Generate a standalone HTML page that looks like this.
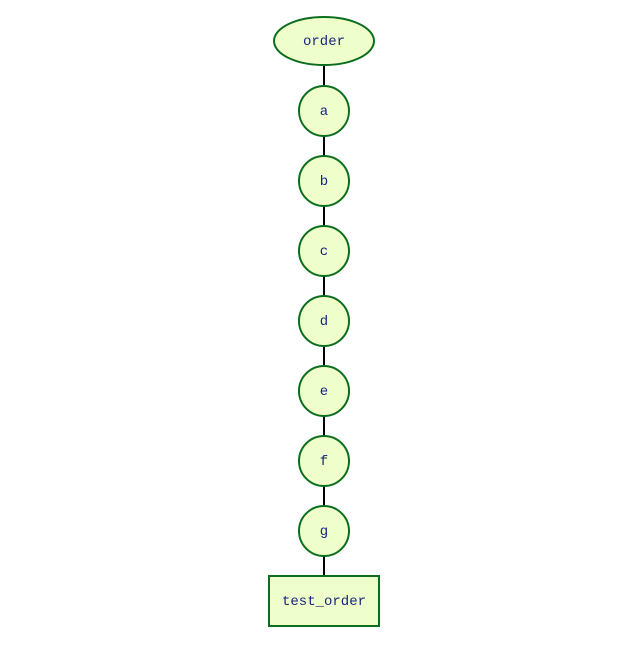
<!DOCTYPE html>
<html><head><meta charset="utf-8"><style>
html,body{margin:0;padding:0;background:#fff;}
svg{display:block;}
text{font-family:"Liberation Mono","DejaVu Sans Mono",monospace;font-size:14px;fill:#1a237e;}
</style></head><body>
<svg id="g" width="641" height="647"></svg>
<script>
const nodeLabels=["order","a","b","c","d","e","f","g","test_order"];
const nodeShapes=["ellipse","circle","circle","circle","circle","circle","circle","circle","rect"];
const svg=document.getElementById('g');
const NS='http://www.w3.org/2000/svg';
const cx=324, y0=41, step=70;
function yPos(i){return y0+i*step;}
function mk(t,a){const e=document.createElementNS(NS,t);for(const k in a)e.setAttribute(k,a[k]);svg.appendChild(e);return e;}
for(let i=0;i<nodeLabels.length-1;i++){
  const l=mk('line',{x1:cx,y1:yPos(i),x2:cx,y2:yPos(i+1),stroke:'#000','stroke-width':2});
  
  
}
const fill='#efffcc', stroke='#0b6e1e';
nodeLabels.forEach((lab,i)=>{
  const y=yPos(i); let e;
  if(nodeShapes[i]==='ellipse') e=mk('ellipse',{cx:cx,cy:y,rx:50,ry:24,fill:fill,stroke:stroke,'stroke-width':2});
  else if(nodeShapes[i]==='rect') e=mk('rect',{x:cx-55,y:y-25,width:110,height:50,fill:fill,stroke:stroke,'stroke-width':2});
  else e=mk('circle',{cx:cx,cy:y,r:25,fill:fill,stroke:stroke,'stroke-width':2});
  
  
  const t=mk('text',{x:cx,y:y+4,'text-anchor':'middle'});
  t.textContent=lab;
  
  
});
</script>
</body></html>
